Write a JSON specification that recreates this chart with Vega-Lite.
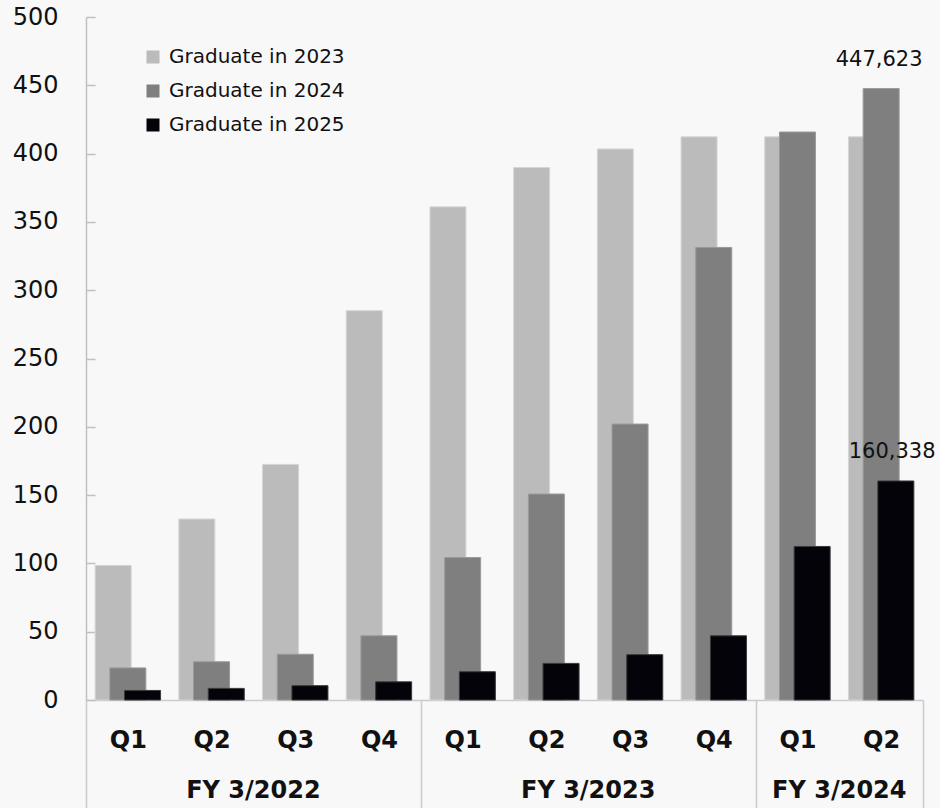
{
  "$schema": "https://vega.github.io/schema/vega-lite/v6.json",
  "width": 837,
  "height": 683,
  "autosize": {"type": "none"},
  "padding": {"left": 86, "top": 17, "right": 17, "bottom": 108},
  "background": "#f8f8f8",
  "config": {"view": {"stroke": null}, "font": "DejaVu Sans"},
  "datasets": {
    "bars": [
      {"fy": "FY 3/2022", "q": "FY 3/2022 Q1", "series": "Graduate in 2023", "value": 98.5},
      {"fy": "FY 3/2022", "q": "FY 3/2022 Q1", "series": "Graduate in 2024", "value": 23.5},
      {"fy": "FY 3/2022", "q": "FY 3/2022 Q1", "series": "Graduate in 2025", "value": 7},
      {"fy": "FY 3/2022", "q": "FY 3/2022 Q2", "series": "Graduate in 2023", "value": 132.5},
      {"fy": "FY 3/2022", "q": "FY 3/2022 Q2", "series": "Graduate in 2024", "value": 28},
      {"fy": "FY 3/2022", "q": "FY 3/2022 Q2", "series": "Graduate in 2025", "value": 8.5},
      {"fy": "FY 3/2022", "q": "FY 3/2022 Q3", "series": "Graduate in 2023", "value": 172.5},
      {"fy": "FY 3/2022", "q": "FY 3/2022 Q3", "series": "Graduate in 2024", "value": 33.5},
      {"fy": "FY 3/2022", "q": "FY 3/2022 Q3", "series": "Graduate in 2025", "value": 10.5},
      {"fy": "FY 3/2022", "q": "FY 3/2022 Q4", "series": "Graduate in 2023", "value": 285},
      {"fy": "FY 3/2022", "q": "FY 3/2022 Q4", "series": "Graduate in 2024", "value": 47},
      {"fy": "FY 3/2022", "q": "FY 3/2022 Q4", "series": "Graduate in 2025", "value": 13.3},
      {"fy": "FY 3/2023", "q": "FY 3/2023 Q1", "series": "Graduate in 2023", "value": 361},
      {"fy": "FY 3/2023", "q": "FY 3/2023 Q1", "series": "Graduate in 2024", "value": 104.3},
      {"fy": "FY 3/2023", "q": "FY 3/2023 Q1", "series": "Graduate in 2025", "value": 20.7},
      {"fy": "FY 3/2023", "q": "FY 3/2023 Q2", "series": "Graduate in 2023", "value": 389.8},
      {"fy": "FY 3/2023", "q": "FY 3/2023 Q2", "series": "Graduate in 2024", "value": 150.8},
      {"fy": "FY 3/2023", "q": "FY 3/2023 Q2", "series": "Graduate in 2025", "value": 26.8},
      {"fy": "FY 3/2023", "q": "FY 3/2023 Q3", "series": "Graduate in 2023", "value": 403.4},
      {"fy": "FY 3/2023", "q": "FY 3/2023 Q3", "series": "Graduate in 2024", "value": 202},
      {"fy": "FY 3/2023", "q": "FY 3/2023 Q3", "series": "Graduate in 2025", "value": 33.2},
      {"fy": "FY 3/2023", "q": "FY 3/2023 Q4", "series": "Graduate in 2023", "value": 412.3},
      {"fy": "FY 3/2023", "q": "FY 3/2023 Q4", "series": "Graduate in 2024", "value": 331.3},
      {"fy": "FY 3/2023", "q": "FY 3/2023 Q4", "series": "Graduate in 2025", "value": 47},
      {"fy": "FY 3/2024", "q": "FY 3/2024 Q1", "series": "Graduate in 2023", "value": 412.3},
      {"fy": "FY 3/2024", "q": "FY 3/2024 Q1", "series": "Graduate in 2024", "value": 415.8},
      {"fy": "FY 3/2024", "q": "FY 3/2024 Q1", "series": "Graduate in 2025", "value": 112.4},
      {"fy": "FY 3/2024", "q": "FY 3/2024 Q2", "series": "Graduate in 2023", "value": 412.3},
      {"fy": "FY 3/2024", "q": "FY 3/2024 Q2", "series": "Graduate in 2024", "value": 447.623, "label": "447,623"},
      {"fy": "FY 3/2024", "q": "FY 3/2024 Q2", "series": "Graduate in 2025", "value": 160.338, "label": "160,338"}
    ],
    "fylabels": [
      {"fyname": "FY 3/2022", "q": "FY 3/2022 Q2"},
      {"fyname": "FY 3/2023", "q": "FY 3/2023 Q2"},
      {"fyname": "FY 3/2024", "q": "FY 3/2024 Q1"}
    ]
  },
  "data": {"name": "bars"},
  "encoding": {
    "x": {
      "field": "q",
      "type": "nominal",
      "scale": {"paddingInner": 0, "paddingOuter": 0},
      "axis": {
        "title": null,
        "labelExpr": "substring(datum.label, 10, 12)",
        "labelAngle": 0,
        "labelFontSize": 24,
        "labelFontWeight": "bold",
        "labelColor": "#111111",
        "labelPadding": -80,
        "domainColor": "#c9cbd1",
        "domainWidth": 1.5,
        "tickBand": "extent",
        "tickSize": 108,
        "tickWidth": 1.5,
        "tickColor": {
          "condition": {"test": "indexof(['FY 3/2022 Q4','FY 3/2023 Q4','FY 3/2024 Q2'], datum.value) >= 0 || datum.extra || !isValid(datum.value)", "value": "#c9cbd1"},
          "value": "transparent"
        }
      }
    },
    "y": {
      "field": "value",
      "type": "quantitative",
      "scale": {"domain": [0, 500], "nice": false},
      "axis": {
        "title": null,
        "values": [0, 50, 100, 150, 200, 250, 300, 350, 400, 450, 500],
        "grid": false,
        "labelFontSize": 24,
        "labelColor": "#111111",
        "labelPadding": 37,
        "domainColor": "#c0c0c0",
        "domainWidth": 1.5,
        "tickColor": "#c0c0c0",
        "tickWidth": 1.5,
        "tickSize": -9
      }
    }
  },
  "layer": [
    {
      "transform": [{"filter": "datum.series == 'Graduate in 2023'"}],
      "mark": {"type": "bar", "width": 36, "xOffset": -14.7, "stroke": "#d6d6d6", "strokeWidth": 1},
      "encoding": {
        "color": {
          "field": "series",
          "type": "nominal",
          "scale": {"domain": ["Graduate in 2023", "Graduate in 2024", "Graduate in 2025"], "range": ["#bbbbbb", "#7f7f7f", "#05030a"]},
          "legend": {
            "title": null,
            "orient": "none",
            "legendX": 57,
            "legendY": 30,
            "symbolType": "square",
            "symbolSize": 169,
            "symbolStrokeWidth": 0,
            "labelFontSize": 20,
            "labelLimit": 400,
            "labelColor": "#111111",
            "labelOffset": 6,
            "rowPadding": 14
          }
        }
      }
    },
    {
      "transform": [{"filter": "datum.series == 'Graduate in 2024'"}],
      "mark": {"type": "bar", "width": 36, "xOffset": 0, "stroke": "#9a9a9a", "strokeWidth": 1},
      "encoding": {"color": {"field": "series", "type": "nominal"}}
    },
    {
      "transform": [{"filter": "datum.series == 'Graduate in 2025'"}],
      "mark": {"type": "bar", "width": 36, "xOffset": 14.7, "stroke": "#3a3a3a", "strokeWidth": 1},
      "encoding": {"color": {"field": "series", "type": "nominal"}}
    },
    {
      "transform": [{"filter": "datum.series == 'Graduate in 2024' && isValid(datum.label)"}],
      "mark": {"type": "text", "fontSize": 21, "color": "#111111", "dy": -23, "baseline": "alphabetic", "xOffset": -2},
      "encoding": {"text": {"field": "label"}}
    },
    {
      "transform": [{"filter": "datum.series == 'Graduate in 2025' && isValid(datum.label)"}],
      "mark": {"type": "text", "fontSize": 21, "color": "#111111", "dy": -23, "baseline": "alphabetic", "xOffset": 11},
      "encoding": {"text": {"field": "label"}}
    },
    {
      "data": {"name": "fylabels"},
      "mark": {"type": "text", "fontSize": 24, "fontWeight": "bold", "color": "#111111", "baseline": "middle", "dy": 91, "xOffset": 41.85},
      "encoding": {
        "x": {"field": "q", "type": "nominal"},
        "y": {"value": {"expr": "height"}},
        "text": {"field": "fyname"}
      }
    }
  ]
}
